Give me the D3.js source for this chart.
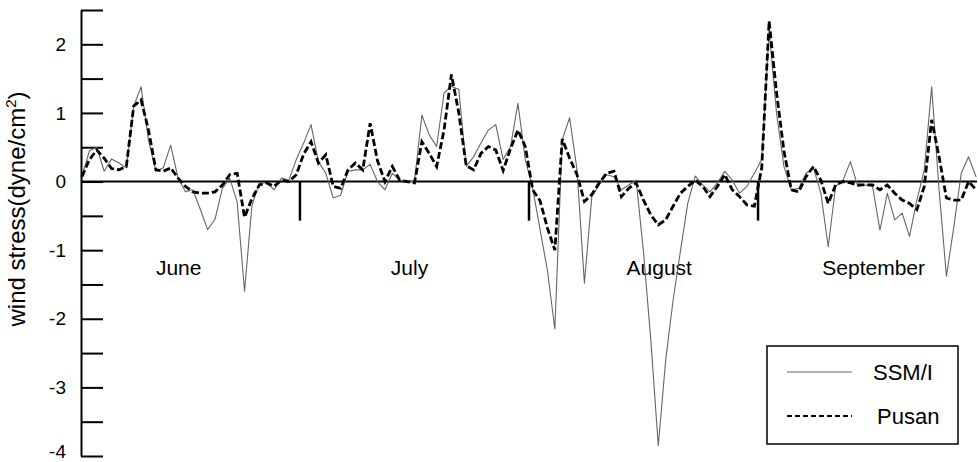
<!DOCTYPE html>
<html>
<head>
<meta charset="utf-8">
<script src="https://cdn.jsdelivr.net/npm/d3@7"></script>
<style>
  html, body { margin: 0; padding: 0; background: #fff; }
  svg { display: block; font-family: "Liberation Sans", Arial, Helvetica, sans-serif; }
</style>
</head>
<body>
<svg id="chart" width="978" height="462"></svg>
<script>
// Daily wind stress, June 1 .. September 30 (122 days)
const days = d3.range(1, 123);

const pusan = [
  0.07, 0.32, 0.46, 0.34, 0.19, 0.17, 0.22, 1.10, 1.19, 0.75,
  0.17, 0.15, 0.20, 0.05, -0.07, -0.15, -0.17, -0.17, -0.15, -0.05,
  0.10, 0.12, -0.52, -0.25, -0.05, -0.02, -0.07, 0.02, 0.00, 0.10,
  0.40, 0.58, 0.27, 0.39, -0.07, -0.10, 0.17, 0.27, 0.17, 0.85,
  0.30, 0.00, 0.22, 0.02, 0.00, -0.02, 0.58, 0.41, 0.22, 0.75,
  1.56, 1.00, 0.23, 0.17, 0.41, 0.51, 0.46, 0.16, 0.48, 0.75,
  0.51, -0.12, -0.28, -0.68, -1.00, 0.62, 0.34, 0.10, -0.29, -0.19,
  -0.02, 0.12, 0.15, -0.22, -0.10, -0.02, -0.27, -0.49, -0.63, -0.56,
  -0.36, -0.17, -0.07, 0.02, -0.07, -0.22, -0.07, 0.10, -0.12, -0.22,
  -0.34, -0.36, 0.20, 2.34, 1.30, 0.45, -0.12, -0.15, 0.07, 0.22,
  0.02, -0.32, -0.05, 0.00, -0.02, -0.05, -0.05, -0.05, -0.12, -0.05,
  -0.17, -0.27, -0.32, -0.41, -0.07, 0.90, 0.36, -0.24, -0.27, -0.27,
  0.00, -0.12
];

const ssmi = [
  0.07, 0.45, 0.50, 0.15, 0.33, 0.27, 0.20, 1.10, 1.38, 0.60,
  0.15, 0.20, 0.53, 0.05, -0.15, -0.12, -0.40, -0.70, -0.55, -0.10,
  0.05, -0.30, -1.60, -0.35, -0.02, -0.02, -0.12, 0.05, 0.02, 0.32,
  0.56, 0.83, 0.29, 0.12, -0.24, -0.20, 0.15, 0.17, 0.17, 0.25,
  0.00, -0.12, 0.12, 0.02, 0.00, 0.00, 0.97, 0.68, 0.51, 1.29,
  1.39, 1.34, 0.22, 0.36, 0.56, 0.75, 0.83, 0.32, 0.51, 1.14,
  0.32, -0.10, -0.70, -1.30, -2.15, 0.61, 0.93, 0.17, -1.48, -0.22,
  -0.05, 0.10, 0.07, -0.12, -0.05, 0.02, -1.03, -2.33, -3.85, -2.60,
  -1.73, -1.01, -0.31, 0.08, -0.05, -0.15, -0.02, 0.15, 0.02, -0.17,
  -0.07, 0.12, 0.32, 2.20, 1.00, 0.22, -0.12, -0.10, 0.12, 0.20,
  -0.17, -0.95, -0.07, 0.02, 0.29, -0.07, -0.05, -0.07, -0.71, -0.17,
  -0.56, -0.46, -0.80, -0.27, 0.17, 1.38, -0.12, -1.38, -0.66, 0.12,
  0.36, 0.07
];

const months = ["June", "July", "August", "September"];
const monthLabelDay = [11.0, 42.8, 74.7, 101.2];   // day position where each label starts
const monthBoundaries = [30.5, 61.5, 92.5];        // between last and first day of months
const yTickValues = d3.range(-4, 2.51, 0.5);
const seriesNames = ["SSM/I", "Pusan"];

const svg = d3.select("#chart");

const x = d3.scaleLinear().domain([1, 122]).range([82, 976]);
const y = d3.scaleLinear().domain([-4, 2.5]).range([456, 10]);

// Y axis (ticks pointing inward)
const yAxis = d3.axisLeft(y)
  .tickValues(yTickValues)
  .tickSizeInner(-22)
  .tickSizeOuter(0)
  .tickPadding(15)
  .tickFormat(d => Number.isInteger(d) ? String(d) : "");

const gy = svg.append("g")
  .attr("transform", "translate(81,0)")
  .call(yAxis);
gy.select(".domain").attr("stroke", "#000").attr("stroke-width", 2);
gy.selectAll(".tick line").attr("stroke", "#000").attr("stroke-width", 2);
gy.selectAll(".tick text")
  .attr("fill", "#000")
  .style("font-size", "19px")
  .style("font-family", "'Liberation Sans', Arial, sans-serif");
// lowest label sits just inside the bottom edge, as in the original
gy.selectAll(".tick text").filter(d => d === -4).attr("dy", "0.1em");

// Zero line
svg.append("line")
  .attr("x1", 81).attr("x2", 977)
  .attr("y1", y(0)).attr("y2", y(0))
  .attr("stroke", "#000").attr("stroke-width", 2);

// Month separators
svg.selectAll("line.sep").data(monthBoundaries).enter().append("line")
  .attr("class", "sep")
  .attr("x1", d => x(d)).attr("x2", d => x(d))
  .attr("y1", y(0)).attr("y2", y(-0.57))
  .attr("stroke", "#000").attr("stroke-width", 2.5);

// Month labels
svg.selectAll("text.month").data(months).enter().append("text")
  .attr("class", "month")
  .attr("x", (d, i) => x(monthLabelDay[i]))
  .attr("y", 275)
  .style("font-size", "21px")
  .attr("fill", "#000")
  .text(d => d);

// Lines
const line = d3.line()
  .x((d, i) => x(days[i]))
  .y(d => y(d));

svg.append("path")
  .datum(ssmi)
  .attr("d", line)
  .attr("fill", "none")
  .attr("stroke", "#666")
  .attr("stroke-width", 1.1)
  .attr("stroke-linejoin", "round");

svg.append("path")
  .datum(pusan)
  .attr("d", line)
  .attr("fill", "none")
  .attr("stroke", "#000")
  .attr("stroke-width", 2.8)
  .attr("stroke-dasharray", "7,3");

// Y label
const ylab = svg.append("text")
  .attr("transform", "translate(25,209) rotate(-90)")
  .attr("text-anchor", "middle")
  .style("font-size", "24px")
  .attr("fill", "#000");
ylab.append("tspan").text("wind stress(dyne/cm");
ylab.append("tspan").attr("dy", -9).style("font-size", "15px").text("2");
ylab.append("tspan").attr("dy", 9).text(")");

// Legend
const lg = svg.append("g");
lg.append("rect")
  .attr("x", 767).attr("y", 346).attr("width", 191).attr("height", 98)
  .attr("fill", "#fff").attr("stroke", "#000").attr("stroke-width", 1.5);
const legendY = [372, 416];
lg.selectAll("line.lg").data(seriesNames).enter().append("line")
  .attr("class", "lg")
  .attr("x1", 787).attr("x2", 852)
  .attr("y1", (d, i) => legendY[i]).attr("y2", (d, i) => legendY[i])
  .attr("stroke", (d, i) => i === 0 ? "#666" : "#000")
  .attr("stroke-width", (d, i) => i === 0 ? 1.1 : 2.2)
  .attr("stroke-dasharray", (d, i) => i === 0 ? null : "5,3");
lg.selectAll("text.lg").data(seriesNames).enter().append("text")
  .attr("class", "lg")
  .attr("x", (d, i) => i === 0 ? 873 : 877)
  .attr("y", (d, i) => legendY[i] + 8)
  .style("font-size", "22px")
  .attr("fill", "#000")
  .text(d => d);
</script>
</body>
</html>
